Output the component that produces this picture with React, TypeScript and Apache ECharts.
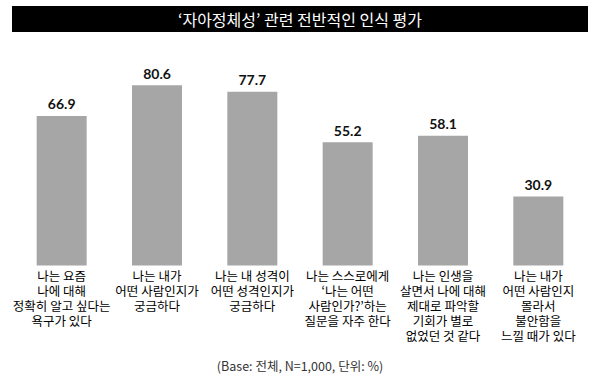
import React, { useEffect, useRef } from "react";
import * as echarts from "echarts";

const titleText = "‘자아정체성’ 관련 전반적인 인식 평가";
const footnote = "(Base: 전체, N=1,000, 단위: %)";
const categories = [
  "나는 요즘\n나에 대해\n정확히 알고 싶다는\n욕구가 있다",
  "나는 내가\n어떤 사람인지가\n궁금하다",
  "나는 내 성격이\n어떤 성격인지가\n궁금하다",
  "나는 스스로에게\n‘나는 어떤\n사람인가?’하는\n질문을 자주 한다",
  "나는 인생을\n살면서 나에 대해\n제대로 파악할\n기회가 별로\n없었던 것 같다",
  "나는 내가\n어떤 사람인지\n몰라서\n불안함을\n느낄 때가 있다",
];
const values = [66.9, 80.6, 77.7, 55.2, 58.1, 30.9];

const FONT = "'Noto Sans CJK KR', 'Noto Sans', sans-serif";

export default function App() {
  const ref = useRef<HTMLDivElement>(null);
  useEffect(() => {
    const chart = echarts.init(ref.current!, null, { renderer: "svg" });
    chart.setOption({
      animation: false,
      backgroundColor: "#ffffff",
      textStyle: { fontFamily: FONT },
      grid: { left: 14, right: 14, top: 42, bottom: 118.5, containLabel: false },
      xAxis: {
        type: "category",
        data: categories,
        axisLine: { show: false },
        axisTick: { show: false },
        axisLabel: {
          interval: 0,
          color: "#000",
          fontSize: 12.5,
          lineHeight: 15,
          margin: 2,
          fontFamily: FONT,
          verticalAlign: "top",
        },
      },
      yAxis: {
        type: "value",
        min: 0,
        max: 100,
        show: false,
        splitLine: { show: false },
      },
      series: [
        {
          type: "bar",
          data: values,
          barWidth: 50,
          itemStyle: { color: "#a6a6a6" },
          label: {
            show: true,
            position: "top",
            distance: 5,
            color: "#111",
            fontSize: 14,
            fontWeight: "bold",
            fontFamily: "Lato, 'Noto Sans', sans-serif",
            formatter: (p: any) => p.value.toFixed(1),
          },
        },
      ],
      graphic: [
        {
          type: "rect",
          shape: { x: 12, y: 6, width: 576, height: 26 },
          style: { fill: "#000" },
        },
        {
          type: "text",
          x: 300,
          y: 19,
          style: {
            text: titleText,
            fill: "#fff",
            fontSize: 16,
            fontFamily: FONT,
            align: "center",
            verticalAlign: "middle",
          },
        },
        {
          type: "text",
          x: 300,
          y: 365,
          style: {
            text: footnote,
            fill: "#333",
            fontSize: 12.5,
            fontFamily: FONT,
            align: "center",
            verticalAlign: "middle",
          },
        },
      ],
    });
    return () => chart.dispose();
  }, []);
  return <div ref={ref} style={{ width: 600, height: 384, position: "absolute", left: 0, top: 0 }} />;
}
